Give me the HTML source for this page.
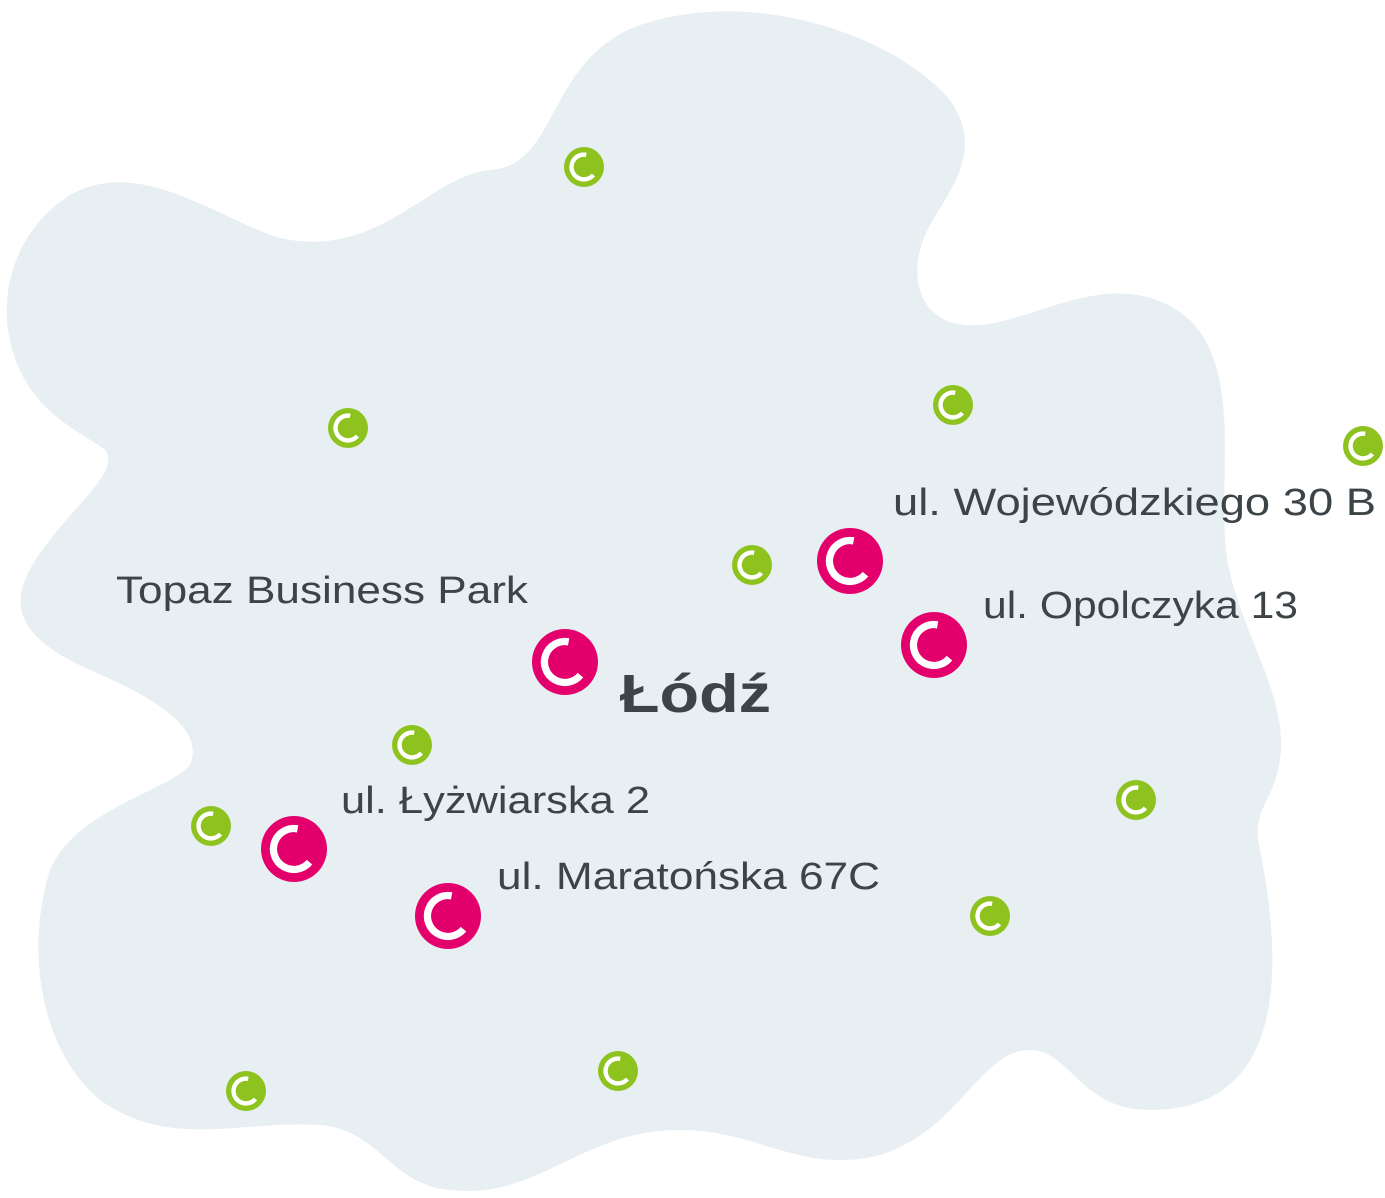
<!DOCTYPE html>
<html><head><style>
html,body{margin:0;padding:0;background:#fff;}
svg{display:block;}
text{font-family:"Liberation Sans",sans-serif;fill:#3d4448;}
</style></head><body>
<svg width="1385" height="1198" viewBox="0 0 1385 1198" xmlns="http://www.w3.org/2000/svg">
<defs>
<g id="m">
<circle r="1" fill="currentColor"/>
<path d="M0.11,-0.61 A0.62,0.62 0 1 0 0.47,0.40" fill="none" stroke="#fff" stroke-width="0.22"/>
</g>
</defs>
<path fill="#e8eff3" d="M490,170 C560,165 545,60 640,25 C760,-15 900,40 950,100 C985,150 950,190 930,225 C905,270 915,330 980,325 C1040,320 1120,260 1190,320 C1240,370 1220,470 1225,540 C1230,620 1290,690 1280,760 C1275,800 1250,810 1260,850 C1290,1000 1270,1110 1150,1110 C1080,1110 1070,1050 1030,1050 C980,1050 960,1130 880,1155 C800,1175 760,1130 680,1130 C580,1130 540,1200 450,1190 C390,1185 380,1130 320,1125 C240,1120 170,1150 100,1100 C40,1050 25,950 50,870 C75,810 170,790 190,765 C205,730 160,700 90,670 C0,630 10,590 50,540 C80,500 120,470 105,450 C80,430 20,410 8,330 C0,270 30,220 70,195 C140,155 220,220 280,238 C380,260 430,175 490,170 Z"/>
<g color="#8dc21f">
<use href="#m" transform="translate(584,167) scale(20)"/>
<use href="#m" transform="translate(348,428) scale(20)"/>
<use href="#m" transform="translate(953,405) scale(20)"/>
<use href="#m" transform="translate(1363,446) scale(20)"/>
<use href="#m" transform="translate(752,565) scale(20)"/>
<use href="#m" transform="translate(412,745) scale(20)"/>
<use href="#m" transform="translate(211,826) scale(20)"/>
<use href="#m" transform="translate(1136,800) scale(20)"/>
<use href="#m" transform="translate(990,916) scale(20)"/>
<use href="#m" transform="translate(618,1071) scale(20)"/>
<use href="#m" transform="translate(246,1091) scale(20)"/>
</g>
<g color="#e4006c">
<use href="#m" transform="translate(850,561) scale(33)"/>
<use href="#m" transform="translate(934,645) scale(33)"/>
<use href="#m" transform="translate(565,662) scale(33)"/>
<use href="#m" transform="translate(294,849) scale(33)"/>
<use href="#m" transform="translate(448,916) scale(33)"/>
</g>
<text x="893" y="515" font-size="38" textLength="483" lengthAdjust="spacingAndGlyphs">ul. Wojewódzkiego 30 B</text>
<text x="116" y="603" font-size="38" textLength="412" lengthAdjust="spacingAndGlyphs">Topaz Business Park</text>
<text x="983" y="618" font-size="38" textLength="315" lengthAdjust="spacingAndGlyphs">ul. Opolczyka 13</text>
<text x="620" y="712" font-size="54" font-weight="bold" textLength="151" lengthAdjust="spacingAndGlyphs">Łódź</text>
<text x="341" y="813" font-size="38" textLength="309" lengthAdjust="spacingAndGlyphs">ul. Łyżwiarska 2</text>
<text x="497" y="889" font-size="38" textLength="383" lengthAdjust="spacingAndGlyphs">ul. Maratońska 67C</text>
</svg>
</body></html>
